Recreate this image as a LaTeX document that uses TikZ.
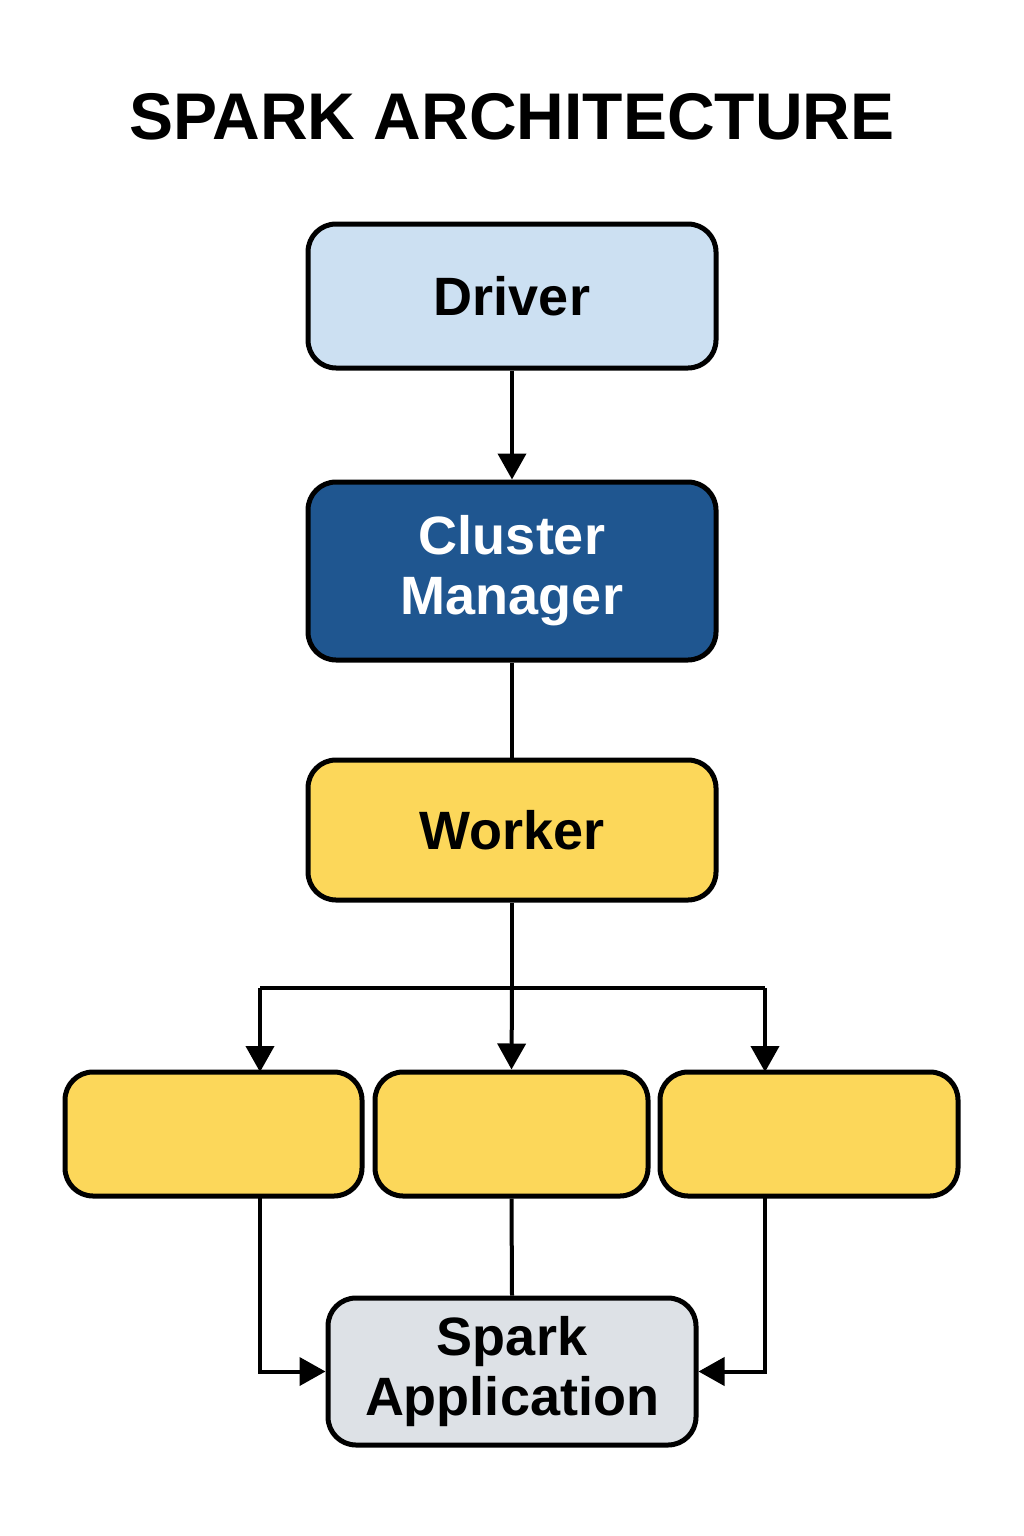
\documentclass[tikz,border=0pt]{standalone}
\usepackage{fontspec}
\setmainfont{Liberation Sans}
\usetikzlibrary{arrows.meta}
\definecolor{drv}{HTML}{CCE0F2}
\definecolor{cm}{HTML}{1F5690}
\definecolor{wk}{HTML}{FCD75A}
\definecolor{app}{HTML}{DDE1E6}
\begin{document}
\begin{tikzpicture}[x=1pt,y=-1pt,
  box/.style={draw=black,line width=5pt,rounded corners=28pt,inner sep=0pt,align=center,
    font=\fontsize{54}{60}\selectfont\bfseries},
  ln/.style={line width=4pt},
  ar/.style={ln,-{Triangle[length=26pt,width=28pt]}}]
\useasboundingbox (0,0) rectangle (1024,1536);
\fill[white] (0,0) rectangle (1024,1536);
\node[font=\fontsize{66}{70}\selectfont\bfseries] (t) at (512,117) {SPARK ARCHITECTURE};
\node[box,fill=drv,minimum width=408pt,minimum height=144pt] (d) at (512,296) {Driver};
\node[box,fill=cm,text=white,minimum width=408pt,minimum height=178pt] (c) at (512,571) {Cluster\\Manager};
\node[box,fill=wk,minimum width=408pt,minimum height=140pt] (w) at (512,830) {Worker};
\node[box,fill=wk,minimum width=297pt,minimum height=124pt] (e1) at (213.5,1134) {};
\node[box,fill=wk,minimum width=273pt,minimum height=124pt] (e2) at (511.5,1134) {};
\node[box,fill=wk,minimum width=298pt,minimum height=124pt] (e3) at (809,1134) {};
\node[box,fill=app,minimum width=368pt,minimum height=147pt] (a) at (512,1371.5) {Spark\\Application};
\coordinate (s) at (512,988);
\coordinate (sl) at (260,988);
\coordinate (sr) at (765,988);
\draw[ar] (d.south) -- (c.north);
\draw[ln] (c.south) -- (w.north);
\draw[ln] (w.south) -- (s);
\draw[ln] (sl) -- (sr);
\draw[ar] (sl) -- (260,1072);
\draw[ar] (s) -- (e2.north);
\draw[ar] (sr) -- (765,1072);
\draw[ar] (260,1196) |- (a.west);
\draw[ar] (765,1196) |- (a.east);
\draw[ln] (e2.south) -- (a.north);
\end{tikzpicture}
\end{document}
